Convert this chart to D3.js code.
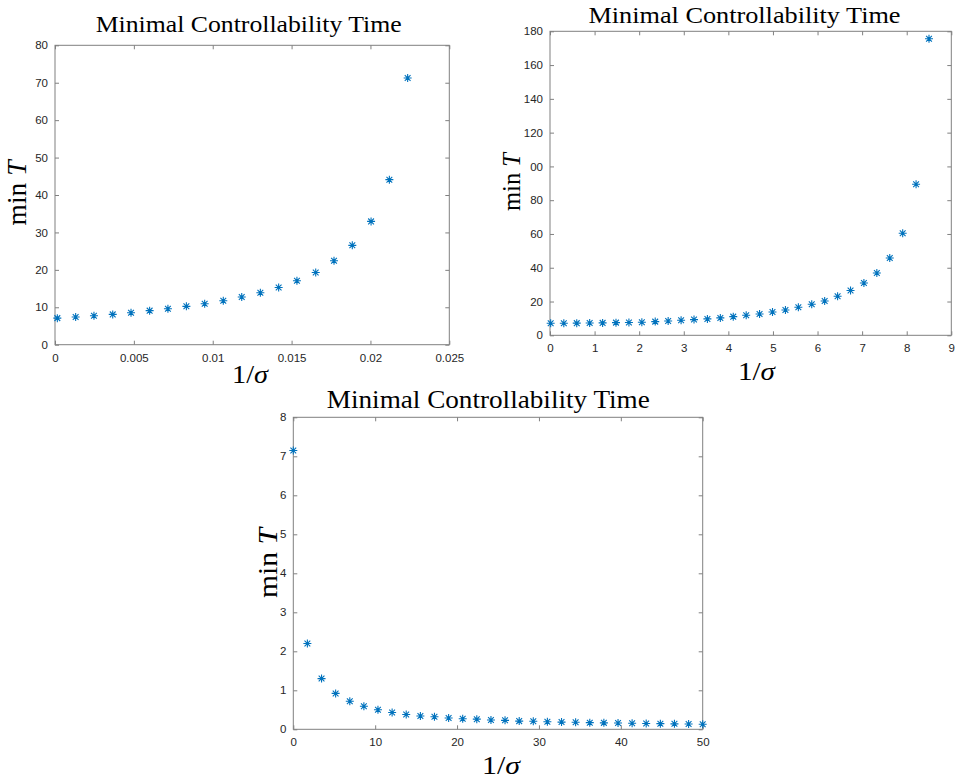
<!DOCTYPE html>
<html>
<head>
<meta charset="utf-8">
<script src="https://cdn.jsdelivr.net/npm/d3@7"></script>
<style>
body { margin: 0; background: #fff; }
.tick text { font-family: "Liberation Sans", Arial, sans-serif; font-size: 11.5px; fill: #262626; }
.tick line { stroke: #808080; }
.serif { font-family: "Liberation Serif", "Times New Roman", serif; fill: #000; }
</style>
</head>
<body>
<svg width="957" height="784"></svg>
<script>
// Panel 1 data
var x1 = [0.000148, 0.00131, 0.00247, 0.00366, 0.00482, 0.0060, 0.00716, 0.00833, 0.00949, 0.01067,
          0.01184, 0.01302, 0.01418, 0.01534, 0.01653, 0.01769, 0.01885, 0.02004, 0.0212, 0.02236];
var y1 = [7.1, 7.4, 7.75, 8.1, 8.55, 9.1, 9.6, 10.25, 10.95, 11.75,
          12.75, 13.9, 15.3, 17.1, 19.3, 22.45, 26.55, 32.95, 44.1, 71.25];
var xTicks1 = [0, 0.005, 0.01, 0.015, 0.02, 0.025];
var xLabels1 = ["0", "0.005", "0.01", "0.015", "0.02", "0.025"];
var yTicks1 = [0, 10, 20, 30, 40, 50, 60, 70, 80];
var yLabels1 = ["0", "10", "20", "30", "40", "50", "60", "70", "80"];

// Panel 2 data
var x2 = [0.015, 0.31, 0.60, 0.89, 1.18, 1.48, 1.77, 2.06, 2.36, 2.65,
          2.94, 3.23, 3.53, 3.82, 4.11, 4.40, 4.70, 4.99, 5.28, 5.57,
          5.87, 6.16, 6.45, 6.74, 7.04, 7.33, 7.62, 7.91, 8.21, 8.50];
var y2 = [7.1, 7.15, 7.2, 7.3, 7.35, 7.5, 7.6, 7.75, 8.1, 8.5,
          8.9, 9.3, 9.7, 10.3, 11.05, 11.85, 12.6, 13.8, 15.0, 16.6,
          18.35, 20.35, 23.1, 26.5, 31.0, 36.9, 45.8, 60.4, 89.4, 175.6];
var xTicks2 = [0, 1, 2, 3, 4, 5, 6, 7, 8, 9];
var xLabels2 = ["0", "1", "2", "3", "4", "5", "6", "7", "8", "9"];
var yTicks2 = [0, 20, 40, 60, 80, 100, 120, 140, 160, 180];
var yLabels2 = ["0", "20", "40", "60", "80", "00", "120", "140", "160", "180"];

// Panel 3 data
var x3 = [0, 1.72, 3.45, 5.17, 6.90, 8.62, 10.34, 12.07, 13.79, 15.52,
          17.24, 18.97, 20.69, 22.41, 24.14, 25.86, 27.59, 29.31, 31.03, 32.76,
          34.48, 36.21, 37.93, 39.66, 41.38, 43.10, 44.83, 46.55, 48.28, 50];
var y3 = [7.15, 2.2, 1.3, 0.92, 0.72, 0.59, 0.5, 0.43, 0.38, 0.34,
          0.32, 0.29, 0.27, 0.26, 0.24, 0.23, 0.21, 0.205, 0.195, 0.185,
          0.18, 0.17, 0.165, 0.16, 0.155, 0.15, 0.145, 0.14, 0.137, 0.13];
var xTicks3 = [0, 10, 20, 30, 40, 50];
var xLabels3 = ["0", "10", "20", "30", "40", "50"];
var yTicks3 = [0, 1, 2, 3, 4, 5, 6, 7, 8];
var yLabels3 = ["0", "1", "2", "3", "4", "5", "6", "7", "8"];

var titleText = "Minimal Controllability Time";
var markerColor = "#0072BD";

var svg = d3.select("svg");

// MATLAB-style '*' marker: plus + cross
function asterisk(r) {
    var d = r * 0.72;
    return "M" + (-r) + ",0L" + r + ",0" +
           "M0," + (-r) + "L0," + r +
           "M" + (-d) + "," + (-d) + "L" + d + "," + d +
           "M" + (-d) + "," + d + "L" + d + "," + (-d);
}

function panel(p) {
    var x = d3.scaleLinear().domain([p.xTicks[0], p.xTicks[p.xTicks.length - 1]]).range([p.left, p.right]);
    var y = d3.scaleLinear().domain([p.yTicks[0], p.yTicks[p.yTicks.length - 1]]).range([p.bottom, p.top]);
    var g = svg.append("g");

    // bottom / left axes with labels, ticks pointing inward
    g.append("g")
        .attr("transform", "translate(0," + p.bottom + ")")
        .call(d3.axisBottom(x).tickValues(p.xTicks)
            .tickFormat(function(d, i) { return p.xLabels[i]; })
            .tickSizeInner(-4).tickSizeOuter(0).tickPadding(9))
        .call(function(a) { a.select(".domain").remove(); });

    g.append("g")
        .attr("transform", "translate(" + p.left + ",0)")
        .call(d3.axisLeft(y).tickValues(p.yTicks)
            .tickFormat(function(d, i) { return p.yLabels[i]; })
            .tickSizeInner(-4).tickSizeOuter(0).tickPadding(7))
        .call(function(a) { a.select(".domain").remove(); });

    // mirrored ticks on top / right
    g.append("g")
        .attr("transform", "translate(0," + p.top + ")")
        .call(d3.axisTop(x).tickValues(p.xTicks).tickFormat("").tickSizeInner(-4).tickSizeOuter(0))
        .call(function(a) { a.select(".domain").remove(); });

    g.append("g")
        .attr("transform", "translate(" + p.right + ",0)")
        .call(d3.axisRight(y).tickValues(p.yTicks).tickFormat("").tickSizeInner(-4).tickSizeOuter(0))
        .call(function(a) { a.select(".domain").remove(); });

    // box
    g.append("rect")
        .attr("x", p.left).attr("y", p.top)
        .attr("width", p.right - p.left).attr("height", p.bottom - p.top)
        .attr("fill", "none").attr("stroke", "#808080").attr("stroke-width", 1);

    // markers
    g.append("g").selectAll("path")
        .data(p.xs.map(function(v, i) { return [v, p.ys[i]]; }))
        .enter().append("path")
        .attr("transform", function(d) { return "translate(" + x(d[0]) + "," + y(d[1]) + ")"; })
        .attr("d", asterisk(4))
        .attr("fill", "none")
        .attr("stroke", markerColor)
        .attr("stroke-width", 1.1);

    // title
    g.append("text")
        .attr("class", "serif")
        .attr("x", p.title[0]).attr("y", p.title[1])
        .attr("text-anchor", "middle")
        .attr("font-size", p.title[3] + "px")
        .attr("textLength", p.title[2]).attr("lengthAdjust", "spacingAndGlyphs")
        .text(titleText);

    // x label 1/σ
    var xl = g.append("text")
        .attr("class", "serif")
        .attr("x", p.xlab[0]).attr("y", p.xlab[1])
        .attr("text-anchor", "middle")
        .attr("font-size", p.xlab[3] + "px")
        .attr("textLength", p.xlab[2]).attr("lengthAdjust", "spacingAndGlyphs");
    xl.append("tspan").text("1/");
    xl.append("tspan").attr("font-style", "italic").text("σ");

    // y label min T
    var yl = g.append("text")
        .attr("class", "serif")
        .attr("transform", "translate(" + p.ylab[0] + "," + p.ylab[1] + ") rotate(-90)")
        .attr("text-anchor", "middle")
        .attr("font-size", p.ylab[3] + "px")
        .attr("textLength", p.ylab[2]).attr("lengthAdjust", "spacingAndGlyphs");
    yl.append("tspan").text("min ");
    yl.append("tspan").attr("font-style", "italic").text("T");
}

panel({
    left: 55, right: 449.3, top: 45.3, bottom: 344.7,
    xs: x1, ys: y1, xTicks: xTicks1, xLabels: xLabels1, yTicks: yTicks1, yLabels: yLabels1,
    title: [248.7, 32.3, 306, 24], xlab: [250, 382.7, 36, 25], ylab: [26, 193, 65, 27]
});

panel({
    left: 550, right: 951.3, top: 31.3, bottom: 335.3,
    xs: x2, ys: y2, xTicks: xTicks2, xLabels: xLabels2, yTicks: yTicks2, yLabels: yLabels2,
    title: [744.5, 22.7, 312, 24], xlab: [756.5, 380, 37, 25], ylab: [520, 182, 58, 25]
});

panel({
    left: 293.3, right: 702.7, top: 417.3, bottom: 729.3,
    xs: x3, ys: y3, xTicks: xTicks3, xLabels: xLabels3, yTicks: yTicks3, yLabels: yLabels3,
    title: [488.3, 408.3, 323, 25], xlab: [501, 774.3, 38, 26], ylab: [277, 563, 70, 28]
});
</script>
</body>
</html>
